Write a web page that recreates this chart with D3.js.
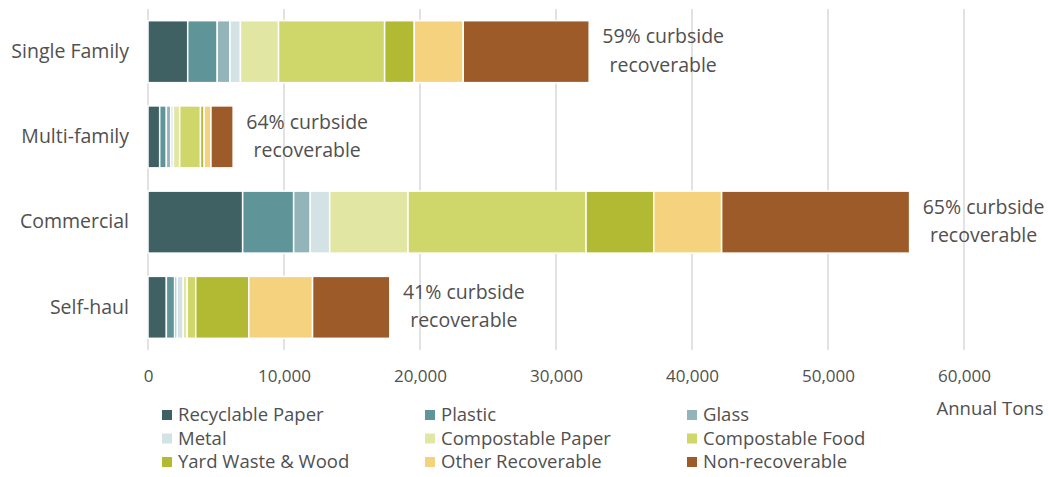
<!DOCTYPE html>
<html><head><meta charset="utf-8">
<script src="https://cdn.jsdelivr.net/npm/d3@7"></script>
<style>body{margin:0;background:#fff}svg{display:block}text{font-family:"Open Sans",sans-serif;fill:#505050}</style>
</head><body><svg id="c" width="1049" height="477"></svg>
<script>
const categories = ["Single Family","Multi-family","Commercial","Self-haul"];
const seriesNames = ["Recyclable Paper","Plastic","Glass","Metal","Compostable Paper","Compostable Food","Yard Waste & Wood","Other Recoverable","Non-recoverable"];
const seriesColors = ["#3F6164","#5F9499","#93B5BA","#D3E2E4","#E1E6A3","#CFD66A","#B2BA33","#F5D37E","#9C5B28"];
const recyclablePaper   = [2920, 860, 6960, 1350];
const plastic           = [2170, 490, 3750, 610];
const glass             = [940, 320, 1220, 190];
const metal             = [770, 200, 1430, 440];
const compostablePaper  = [2800, 460, 5760, 290];
const compostableFood   = [7800, 1530, 13090, 630];
const yardWaste         = [2180, 270, 4980, 3900];
const otherRecoverable  = [3600, 500, 4990, 4690];
const nonRecoverable    = [9260, 1630, 13820, 5680];
const annotations = ["59% curbside","64% curbside","65% curbside","41% curbside"];
const annotation2 = "recoverable";
const xTicks = [0,10000,20000,30000,40000,50000,60000];
const axisTitle = "Annual Tons";

const seriesValues = [recyclablePaper,plastic,glass,metal,compostablePaper,compostableFood,yardWaste,otherRecoverable,nonRecoverable];
const rows = categories.map((c,i)=>{const o={cat:c};seriesNames.forEach((s,j)=>o[s]=seriesValues[j][i]);return o;});
const stacked = d3.stack().keys(seriesNames)(rows);

const svg = d3.select("#c");
const x = d3.scaleLinear().domain([0,60000]).range([148,964]);
const y = d3.scaleBand().domain(categories).range([9,350]).paddingInner(0.273).paddingOuter(0.137);

// gridlines
svg.append("g").selectAll("line").data(xTicks).join("line")
  .attr("x1",d=>x(d)).attr("x2",d=>x(d)).attr("y1",9).attr("y2",350)
  .attr("stroke","#D9D9D9").attr("stroke-width",1.5);

// x axis labels
const xa = svg.append("g").attr("transform","translate(0,350)")
  .call(d3.axisBottom(x).tickValues(xTicks).tickSize(0).tickPadding(20).tickFormat(d3.format(",")));
xa.select(".domain").remove();
xa.selectAll("text").attr("font-size",17).style("font-family","'Open Sans', sans-serif").attr("fill","#505050");

// y labels
const ya = svg.append("g").attr("transform","translate(129,0)")
  .call(d3.axisLeft(y).tickSize(0).tickPadding(0));
ya.select(".domain").remove();
ya.selectAll("text").attr("font-size",19.5).style("font-family","'Open Sans', sans-serif").attr("fill","#505050");

// bars
svg.append("g").selectAll("g").data(stacked).join("g")
  .attr("fill",(d,i)=>seriesColors[i])
  .selectAll("rect").data(d=>d).join("rect")
  .attr("x",d=>x(d[0])).attr("width",d=>Math.max(0,x(d[1])-x(d[0])))
  .attr("y",d=>y(d.data.cat)).attr("height",y.bandwidth())
  .attr("stroke","#fff").attr("stroke-width",1.5);

// annotations
const totals = rows.map(r=>d3.sum(seriesNames,s=>r[s]));
const ann = svg.append("g").selectAll("text").data(categories).join("text")
  .attr("x",(d,i)=>x(totals[i])+74).attr("y",d=>y(d)+y.bandwidth()/2)
  .attr("text-anchor","middle").attr("font-size",19.5);
ann.append("tspan").attr("x",(d,i)=>x(totals[i])+74).attr("dy","-0.42em").text((d,i)=>annotations[i]);
ann.append("tspan").attr("x",(d,i)=>x(totals[i])+74).attr("dy","1.45em").text(annotation2);

// axis title
svg.append("text").attr("x",990).attr("y",415).attr("text-anchor","middle").attr("font-size",18.5).text(axisTitle);

// legend
const colX = [162,425,687];
const lg = svg.append("g").selectAll("g").data(seriesNames).join("g")
  .attr("transform",(d,i)=>`translate(${colX[i%3]},${415+Math.floor(i/3)*23.5})`);
lg.append("rect").attr("x",0).attr("y",-5).attr("width",10).attr("height",10).attr("fill",(d,i)=>seriesColors[i]);
lg.append("text").attr("x",16).attr("y",0).attr("dy","0.35em").attr("font-size",18.5).text(d=>d);
</script></body></html>
